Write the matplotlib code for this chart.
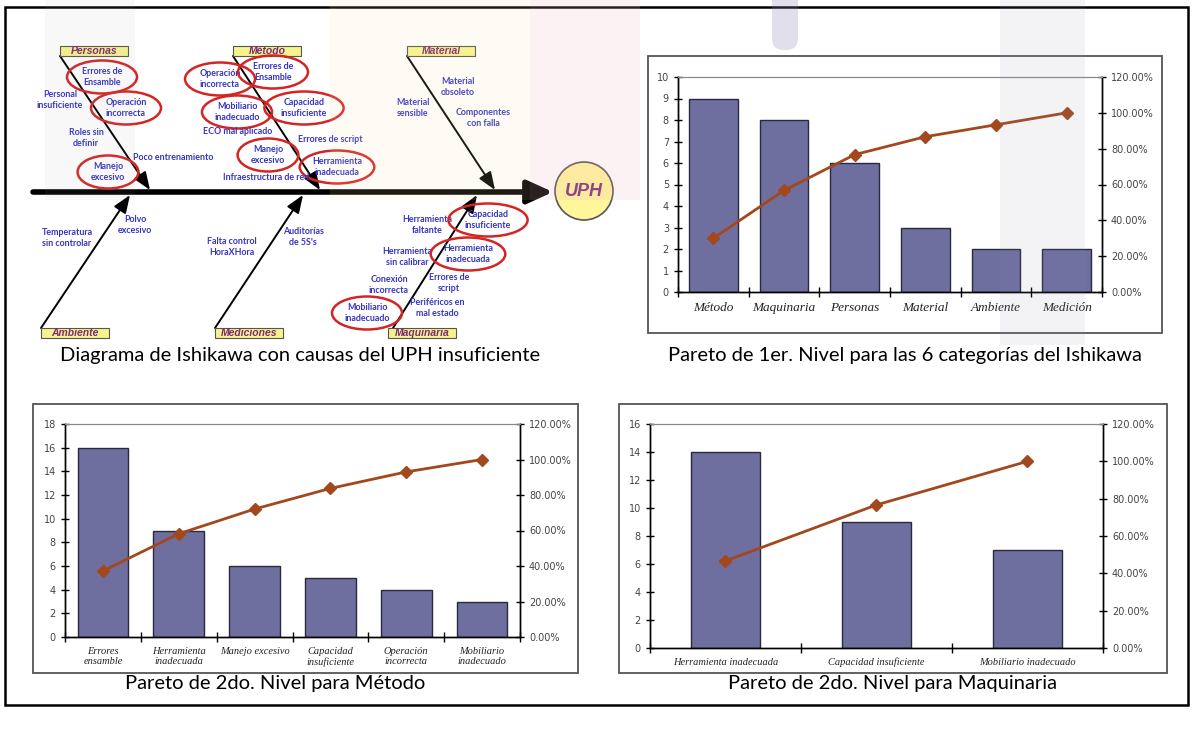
# diagrama de Ishikawa + tres paretos
from matplotlib import pyplot as plt
from matplotlib.patches import Rectangle, Ellipse, Circle, FancyBboxPatch
import numpy as np

# datos de los paretos
nivel1_cat = ['Método', 'Maquinaria', 'Personas', 'Material', 'Ambiente', 'Medición']
nivel1_val = [9, 8, 6, 3, 2, 2]

metodo_cat = ['Errores\nensamble', 'Herramienta\ninadecuada', 'Manejo excesivo',
              'Capacidad\ninsuficiente', 'Operación\nincorrecta', 'Mobiliario\ninadecuado']
metodo_val = [16, 9, 6, 5, 4, 3]

maquinaria_cat = ['Herramienta inadecuada', 'Capacidad insuficiente', 'Mobiliario inadecuado']
maquinaria_val = [14, 9, 7]

# categorias del ishikawa: nombre, caja (centro), inicio y punta de la espina
categorias = [
    ('Personas', (94, 51), (60, 56), (150, 190)),
    ('Método', (267, 51), (233, 56), (320, 190)),
    ('Material', (441, 51), (407, 56), (495, 190)),
    ('Ambiente', (75, 333), (41, 328), (130, 195)),
    ('Mediciones', (249, 333), (215, 328), (303, 195)),
    ('Maquinaria', (422, 333), (393, 328), (477, 195)),
]

# causas: texto, posicion, encerrada en circulo rojo
causas = [
    ('Errores de\nEnsamble', (102, 77), True),
    ('Personal\ninsuficiente', (60, 100), False),
    ('Operación\nincorrecta', (126, 108), True),
    ('Roles sin\ndefinir', (86, 138), False),
    ('Poco entrenamiento', (173, 158), False),
    ('Manejo\nexcesivo', (108, 172), True),
    ('Operación\nincorrecta', (220, 79), True),
    ('Errores de\nEnsamble', (273, 72), True),
    ('Mobiliario\ninadecuado', (237, 112), True),
    ('Capacidad\ninsuficiente', (304, 108), True),
    ('ECO mal aplicado', (238, 131), False),
    ('Errores de script', (330, 140), False),
    ('Manejo\nexcesivo', (268, 155), True),
    ('Herramienta\ninadecuada', (337, 167), True),
    ('Infraestructura de red', (266, 177), False),
    ('Material\nobsoleto', (458, 87), False),
    ('Material\nsensible', (413, 108), False),
    ('Componentes\ncon falla', (483, 118), False),
    ('Temperatura\nsin controlar', (67, 238), False),
    ('Polvo\nexcesivo', (135, 225), False),
    ('Falta control\nHoraXHora', (232, 247), False),
    ("Auditorías\nde 5S's", (303, 237), False),
    ('Herramienta\nfaltante', (427, 225), False),
    ('Capacidad\ninsuficiente', (488, 220), True),
    ('Herramienta\nsin calibrar', (407, 257), False),
    ('Herramienta\ninadecuada', (468, 254), True),
    ('Conexión\nincorrecta', (389, 285), False),
    ('Errores de\nscript', (449, 283), False),
    ('Mobiliario\ninadecuado', (367, 313), True),
    ('Periféricos en\nmal estado', (437, 308), False),
]

W, H = 1194, 751
fig = plt.figure(figsize=(W / 100, H / 100), dpi=100)

# capa de fondo en pixeles
bg = fig.add_axes([0, 0, 1, 1])
bg.set_xlim(0, W)
bg.set_ylim(H, 0)
bg.axis('off')

# marco exterior
bg.add_patch(Rectangle((5, 7), 1183, 698, fill=False, ec='black', lw=1.8))

# espina principal y efecto
bg.annotate('', xy=(553, 192), xytext=(33, 192),
            arrowprops=dict(arrowstyle='-|>,head_width=0.5,head_length=1.1',
                            lw=4, color='black', mutation_scale=14, shrinkA=0, shrinkB=0))
bg.add_patch(Circle((584, 191), 29, fc='#FFF59A', ec='#555555', lw=1.2, zorder=3))
bg.text(584, 192, 'UPH', ha='center', va='center', fontsize=13, fontweight='bold',
        style='italic', color='#7B2A78', family='Liberation Sans', zorder=4)

# espinas de las categorias
for nombre, caja, ini, fin in categorias:
    bg.annotate('', xy=fin, xytext=ini,
                arrowprops=dict(arrowstyle='-|>,head_width=0.35,head_length=0.9',
                                lw=1.4, color='black', mutation_scale=12,
                                shrinkA=0, shrinkB=0))
    bg.add_patch(Rectangle((caja[0] - 34, caja[1] - 5), 68, 10, fc='#F7F38C',
                           ec='#555555', lw=0.8, zorder=3))
    bg.text(caja[0], caja[1], nombre, ha='center', va='center', fontsize=7.5,
            fontweight='bold', style='italic', color='#7B2A78',
            family='Liberation Sans', zorder=4)

# causas
for texto, (cx, cy), marcada in causas:
    bg.text(cx, cy, texto, ha='center', va='center', fontsize=6.4, fontweight='bold',
            color='#3535C0', family='Lato', linespacing=1.25, zorder=4)
    if marcada:
        ancho = max(len(t) for t in texto.split('\n')) * 4.6 + 24
        bg.add_patch(Ellipse((cx, cy), ancho, 33, fill=False, ec='#D42525', lw=1.8, zorder=4))

# marcos de los graficos
for x0, y0, x1, y1 in [(648, 56, 1162, 333), (33, 404, 578, 673), (619, 404, 1167, 673)]:
    bg.add_patch(Rectangle((x0, y0), x1 - x0, y1 - y0, fc='white', ec='#555555', lw=1.3))

# titulos
titulos = [
    ('Diagrama de Ishikawa con causas del UPH insuficiente', 300, 355),
    ('Pareto de 1er. Nivel para las 6 categorías del Ishikawa', 905, 355),
    ('Pareto de 2do. Nivel para Método', 275, 684),
    ('Pareto de 2do. Nivel para Maquinaria', 893, 684),
]
for t, x, y in titulos:
    bg.text(x, y, t, ha='center', va='center', fontsize=14.5, family='Lato', color='black')


def ejes_px(x0, y0, x1, y1):
    return fig.add_axes([x0 / W, 1 - y1 / H, (x1 - x0) / W, (y1 - y0) / H])


def pareto(ax, cats, vals, ymax, ystep, fs, ancho):
    n = len(cats)
    x = np.arange(n)
    acum = np.cumsum(vals) / np.sum(vals)

    ax.bar(x, vals, width=ancho, color='#6E6E9F', edgecolor='#2A2A3E', lw=1.0, zorder=2)
    ax.set_xlim(-0.5, n - 0.5)
    ax.set_ylim(0, ymax)
    ax.set_yticks(np.arange(0, ymax + 0.1, ystep))
    ax.set_facecolor('none')

    # marcas entre categorias, etiquetas centradas
    ax.set_xticks(np.arange(n + 1) - 0.5)
    ax.set_xticklabels([])
    ax.set_xticks(x, minor=True)
    ax.set_xticklabels(cats, minor=True, family='Liberation Serif', style='italic',
                       fontsize=fs, color='#222222', linespacing=1.2)
    ax.tick_params(axis='x', which='major', direction='inout', length=7, width=1)
    ax.tick_params(axis='x', which='minor', length=0, pad=7)
    ax.tick_params(axis='y', direction='inout', length=6, width=1, labelsize=7,
                   labelcolor='#444444')

    ax2 = ax.twinx()
    ax2.plot(x, acum, color='#A3471D', lw=2, marker='D', ms=6.5, zorder=3)
    ax2.set_ylim(0, 1.2)
    ax2.set_yticks(np.arange(0, 1.21, 0.2))
    ax2.set_yticklabels(['%.2f%%' % (v * 100) for v in np.arange(0, 1.21, 0.2)])
    ax2.tick_params(axis='y', direction='inout', length=6, width=1, labelsize=7,
                    labelcolor='#444444')

    for a in (ax, ax2):
        a.spines['top'].set_color('#888888')
        a.spines['top'].set_linewidth(0.8)
        for s in ('left', 'right', 'bottom'):
            a.spines[s].set_color('black')
            a.spines[s].set_linewidth(1.0)


pareto(ejes_px(678, 77, 1102, 292), nivel1_cat, nivel1_val, 10, 1, 9.5, 0.69)
pareto(ejes_px(65, 424, 520, 637), metodo_cat, metodo_val, 18, 2, 7.5, 0.67)
pareto(ejes_px(650, 424, 1103, 648), maquinaria_cat, maquinaria_val, 16, 2, 7.5, 0.46)

# marca de agua tenue por encima
wm = fig.add_axes([0, 0, 1, 1], facecolor='none')
wm.set_xlim(0, W)
wm.set_ylim(H, 0)
wm.axis('off')
wm.add_patch(Rectangle((1000, 0), 85, 345, fc='#8A90B0', alpha=0.1, lw=0))
wm.add_patch(FancyBboxPatch((772, -20), 26, 70, boxstyle='round,pad=0,rounding_size=12',
                            fc='#8A80B0', alpha=0.25, lw=0))
wm.add_patch(Rectangle((530, 0), 110, 200, fc='#F2B8C6', alpha=0.18, lw=0))
wm.add_patch(Rectangle((330, 0), 200, 200, fc='#FBE3B0', alpha=0.12, lw=0))
wm.add_patch(Rectangle((45, 0), 90, 200, fc='#A0A0B0', alpha=0.07, lw=0))

fig.savefig('out.png', dpi=100)
